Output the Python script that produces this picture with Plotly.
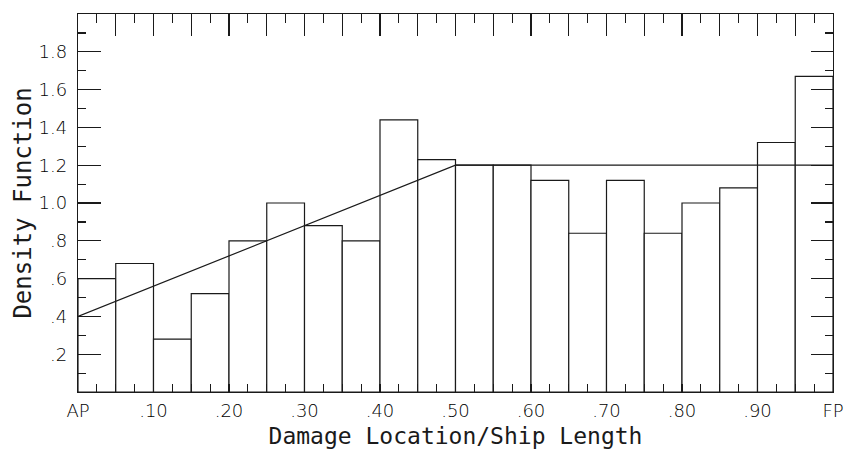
import plotly.graph_objects as go

# Histogram of damage location (bins of 0.05 ship length)
bin_centers = [0.025, 0.075, 0.125, 0.175, 0.225, 0.275, 0.325, 0.375, 0.425, 0.475,
               0.525, 0.575, 0.625, 0.675, 0.725, 0.775, 0.825, 0.875, 0.925, 0.975]
density = [0.60, 0.68, 0.28, 0.52, 0.80, 1.00, 0.88, 0.80, 1.44, 1.23,
           1.20, 1.20, 1.12, 0.84, 1.12, 0.84, 1.00, 1.08, 1.32, 1.67]
bin_width = 0.05

# Assumed density function (piecewise linear)
curve_x = [0.0, 0.5, 1.0]
curve_y = [0.4, 1.2, 1.2]

x_tickvals = [0.0, 0.1, 0.2, 0.3, 0.4, 0.5, 0.6, 0.7, 0.8, 0.9, 1.0]
x_ticktext = ["AP", ".10", ".20", ".30", ".40", ".50", ".60", ".70", ".80", ".90", "FP"]
y_tickvals = [0.2, 0.4, 0.6, 0.8, 1.0, 1.2, 1.4, 1.6, 1.8]
y_ticktext = [".2", ".4", ".6", ".8", "1.0", "1.2", "1.4", "1.6", "1.8"]

INK = "#1a1a1a"
FONT = "DejaVu Sans"
TFONT = "DejaVu Sans Mono"

fig = go.Figure()
fig.add_trace(go.Bar(
    x=bin_centers, y=density, width=bin_width,
    marker=dict(color="white", line=dict(color=INK, width=1.2)),
    showlegend=False, hoverinfo="skip",
))
fig.add_trace(go.Scatter(
    x=curve_x, y=curve_y, mode="lines",
    line=dict(color=INK, width=1.2), showlegend=False, hoverinfo="skip",
))
# invisible trace to activate mirrored axes
fig.add_trace(go.Scatter(x=[0, 1], y=[0, 2], xaxis="x2", yaxis="y2", mode="markers",
                         marker=dict(opacity=0), showlegend=False, hoverinfo="skip"))

fig.update_layout(
    width=855, height=465,
    margin=dict(l=78, r=22, t=14, b=73),
    paper_bgcolor="white", plot_bgcolor="white",
    font=dict(family=FONT, color=INK, size=18, weight=200),
    bargap=0,
    xaxis=dict(
        range=[0, 1], showgrid=False, zeroline=False,
        showline=True, linecolor=INK, linewidth=1.2,
        tickvals=x_tickvals, ticktext=x_ticktext,
        ticks="inside", ticklen=8, tickcolor=INK, tickwidth=1.2,
        minor=dict(dtick=0.025, ticks="inside", ticklen=8, tickcolor=INK, tickwidth=1.2, showgrid=False),
        ticklabelstandoff=2, ticklabeloverflow="allow",
        tickfont=dict(size=18, family=FONT, weight=200, color="#000000"),
        title=dict(text="Damage Location/Ship Length", font=dict(size=23, family=TFONT, weight=200), standoff=8),
    ),
    yaxis=dict(
        range=[0, 2], showgrid=False, zeroline=False,
        showline=True, linecolor=INK, linewidth=1.2,
        tickvals=y_tickvals, ticktext=y_ticktext,
        ticks="inside", ticklen=23, tickcolor=INK, tickwidth=1.2,
        minor=dict(dtick=0.1, ticks="inside", ticklen=8, tickcolor=INK, tickwidth=1.2, showgrid=False),
        ticklabelstandoff=6,
        tickfont=dict(size=18, family=FONT, weight=200, color="#000000"),
        title=dict(text="Density Function", font=dict(size=24, family=TFONT, weight=200), standoff=0),
    ),
    xaxis2=dict(
        overlaying="x", side="top", range=[0, 1], showgrid=False, zeroline=False,
        showline=True, linecolor=INK, linewidth=1.2,
        dtick=0.05, tick0=0, ticks="inside", ticklen=22, tickcolor=INK, tickwidth=1.2,
        minor=dict(dtick=0.025, ticks="inside", ticklen=9, tickcolor=INK, tickwidth=1.2, showgrid=False),
        showticklabels=False,
    ),
    yaxis2=dict(
        overlaying="y", side="right", range=[0, 2], showgrid=False, zeroline=False,
        showline=True, linecolor=INK, linewidth=1.2,
        dtick=0.2, tick0=0, ticks="inside", ticklen=22, tickcolor=INK, tickwidth=1.2,
        minor=dict(dtick=0.1, ticks="inside", ticklen=8, tickcolor=INK, tickwidth=1.2, showgrid=False),
        showticklabels=False,
    ),
)

fig.write_html(
    "out.html",
    config={"displayModeBar": False, "staticPlot": True},
    post_script="document.body.style.margin='0';document.body.style.overflow='hidden';",
)
